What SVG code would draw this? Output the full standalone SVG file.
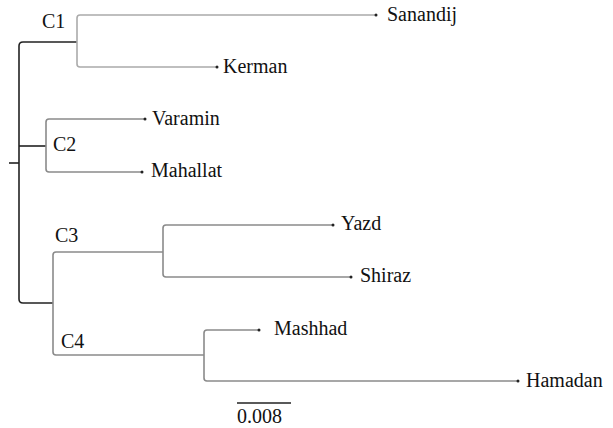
<svg xmlns="http://www.w3.org/2000/svg" width="613" height="428" viewBox="0 0 613 428">
<style>
.b{fill:none;stroke-width:1.6;stroke-linejoin:round}
.k{stroke:#222}
.g{stroke:#8a8a8a}
.l{stroke:#ababab}
text{font-family:"Liberation Serif","Times New Roman",serif;font-size:20px;fill:#111}
.d{fill:#222}
</style>
<rect width="613" height="428" fill="#fff"/>
<g id="connectors">
<path class="b k" d="M9,163 H19"/>
<path class="b k" d="M77,42 H23 Q19,42 19,46 V299 Q19,303 23,303 H53"/>
<path class="b k" d="M19,146 H46"/>
<path class="b l" d="M376,15 H80 Q77,15 77,18 V64 Q77,67 80,67 H217"/>
<path class="b g" d="M145,119 H49 Q46,119 46,122 V169 Q46,172 49,172 H142"/>
<path class="b g" d="M163,252 H56 Q53,252 53,255 V352 Q53,355 56,355 H204"/>
<path class="b g" d="M333,225 H166 Q163,225 163,228 V274 Q163,277 166,277 H351"/>
<path class="b g" d="M259,330 H207 Q204,330 204,333 V378 Q204,381 207,381 H518"/>
<path class="b k" d="M237,403 H291" stroke-width="2"/>
</g>
<g id="Sanandij"><circle class="d" cx="376" cy="15" r="1.5"/><text x="387" y="21">Sanandij</text></g>
<g id="Kerman"><circle class="d" cx="217" cy="67" r="1.5"/><text x="223" y="73">Kerman</text></g>
<g id="Varamin"><circle class="d" cx="145" cy="119" r="1.5"/><text x="152" y="125">Varamin</text></g>
<g id="Mahallat"><circle class="d" cx="142" cy="172" r="1.5"/><text x="151" y="177">Mahallat</text></g>
<g id="Yazd"><circle class="d" cx="333" cy="225" r="1.5"/><text x="341" y="230">Yazd</text></g>
<g id="Shiraz"><circle class="d" cx="351" cy="277" r="1.5"/><text x="360" y="282">Shiraz</text></g>
<g id="Mashhad"><circle class="d" cx="259" cy="330" r="1.5"/><text x="274" y="335">Mashhad</text></g>
<g id="Hamadan"><circle class="d" cx="518" cy="381" r="1.5"/><text x="526" y="387">Hamadan</text></g>
<g id="C1"><text x="42" y="28">C1</text></g>
<g id="C2"><text x="53" y="151">C2</text></g>
<g id="C3"><text x="55" y="242">C3</text></g>
<g id="C4"><text x="61" y="348">C4</text></g>
<g id="scale"><text x="237" y="423">0.008</text></g>
</svg>
